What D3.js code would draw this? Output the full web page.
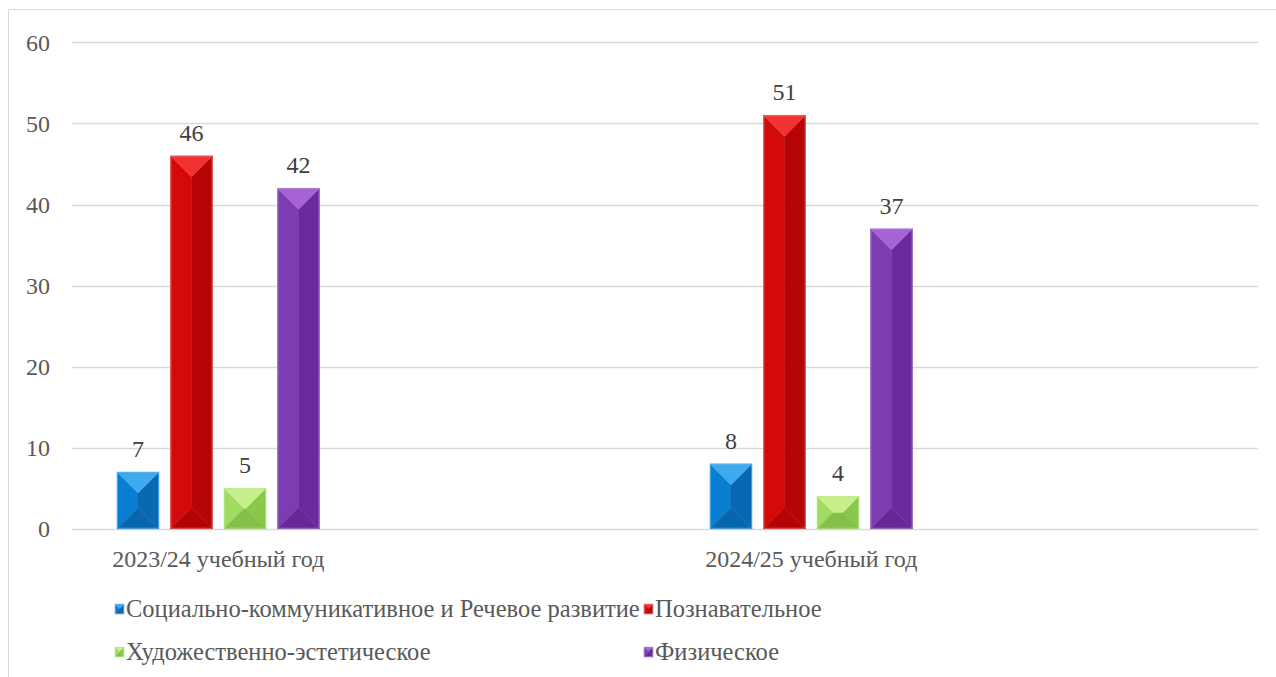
<!DOCTYPE html>
<html>
<head>
<meta charset="utf-8">
<script src="https://cdn.jsdelivr.net/npm/d3@7"></script>
<style>
  body { margin: 0; background: #fff; }
</style>
</head>
<body>
<svg id="chart" width="1276" height="677"></svg>
<script>
// data
var categories = ["2023/24 учебный год", "2024/25 учебный год"];
var series = ["Социально-коммуникативное и Речевое развитие", "Познавательное", "Художественно-эстетическое", "Физическое"];
var values = [
  [7, 46, 5, 42],
  [8, 51, 4, 37]
];
var yTicks = [0, 10, 20, 30, 40, 50, 60];

// shades per series: top, left, right, bottom
var shades = [
  {top: "#3fa9ef", left: "#0a7ed2", right: "#0868b2", bottom: "#0866ae", edge: "#5bb5f0"},
  {top: "#f23232", left: "#d40a0a", right: "#b70404", bottom: "#b20404", edge: "#e86a6a"},
  {top: "#c6ef8c", left: "#9fdc5f", right: "#8ac84c", bottom: "#84bf47", edge: "#b5e58a"},
  {top: "#a563d6", left: "#7c3cb2", right: "#6a2a9d", bottom: "#662896", edge: "#a680c8"}
];

// pick the first installed serif font
function pickFont(cands) {
  var ctx = document.createElement("canvas").getContext("2d");
  var probe = "mmmwwwlliАБВГДжфыуй0123456789";
  for (var i = 0; i < cands.length; i++) {
    var ok = ["monospace", "sans-serif"].every(function(fb) {
      ctx.font = "40px " + fb;
      var w0 = ctx.measureText(probe).width;
      ctx.font = "40px '" + cands[i] + "', " + fb;
      return ctx.measureText(probe).width !== w0;
    });
    if (ok) return "'" + cands[i] + "', serif";
  }
  return "serif";
}
var FONT = pickFont(["Liberation Serif", "Tinos", "Times New Roman", "Noto Serif", "DejaVu Serif", "FreeSerif"]);
var FS = 24;

var svg = d3.select("#chart")
  .style("font-family", FONT);

// outer frame (top + left only visible)
svg.append("path")
  .attr("d", "M8.5,677 L8.5,9.5 L1276,9.5")
  .attr("fill", "none").attr("stroke", "#d9d9d9").attr("stroke-width", 1);

var plotLeft = 72, plotRight = 1258;
var y = d3.scaleLinear().domain([0, 60]).range([528.7, 42.4]);
var x0 = d3.scaleBand().domain(categories).range([plotLeft, plotRight]);
var x1 = d3.scaleBand().domain(series).range([39.25, 39.25 + 4 * 53.5]).paddingInner(0.215).paddingOuter(0.1075);
var groupMid = (x1.range()[0] + x1.range()[1]) / 2;

// grid
svg.append("g").selectAll("line").data(yTicks).enter().append("line")
  .attr("x1", plotLeft).attr("x2", plotRight)
  .attr("y1", d => Math.round(y(d)) + 0.5).attr("y2", d => Math.round(y(d)) + 0.5)
  .attr("stroke", "#d9d9d9").attr("stroke-width", 1.3);

// y labels
svg.append("g").selectAll("text").data(yTicks).enter().append("text")
  .attr("x", 50).attr("y", d => y(d) + 8.5)
  .attr("text-anchor", "end").attr("font-size", FS).attr("fill", "#595959")
  .style("font-family", FONT)
  .text(d => d);

function bevelBar(g, x, yTop, w, h, c) {
  var d = Math.min(w / 2, h / 2);
  var xa = x, xb = x + w, ya = yTop, yb = yTop + h;
  var pts = {
    left: [[xa, ya], [xa + d, ya + d], [xa + d, yb - d], [xa, yb]],
    right: [[xb, ya], [xb - d, ya + d], [xb - d, yb - d], [xb, yb]],
    top: [[xa, ya], [xb, ya], [xb - d, ya + d], [xa + d, ya + d]],
    bottom: [[xa, yb], [xb, yb], [xb - d, yb - d], [xa + d, yb - d]]
  };
  if (w / 2 > d) {
    g.append("rect").attr("x", xa + d).attr("y", ya + d).attr("width", w - 2 * d).attr("height", Math.max(0, h - 2 * d))
      .attr("fill", c.left);
  }
  ["left", "right", "bottom", "top"].forEach(function(k) {
    g.append("polygon").attr("points", pts[k].map(p => p.join(",")).join(" "))
      .attr("fill", c[k]).attr("stroke", c[k]).attr("stroke-width", 0.4);
  });
  g.append("rect").attr("x", xa + 0.5).attr("y", ya + 0.5).attr("width", w - 1).attr("height", h - 1)
    .attr("fill", "none").attr("stroke", c.edge).attr("stroke-width", 1).attr("stroke-opacity", 0.7);
}

// bars
categories.forEach(function(cat, ci) {
  var g = svg.append("g").attr("transform", "translate(" + x0(cat) + ",0)");
  series.forEach(function(s, si) {
    var v = values[ci][si];
    var bx = x1(s), bw = x1.bandwidth();
    bevelBar(g, bx, y(v), bw, y(0) - y(v), shades[si]);
    g.append("text")
      .attr("x", bx + bw / 2).attr("y", y(v) - 15)
      .attr("text-anchor", "middle").attr("font-size", FS).attr("fill", "#404040")
      .style("font-family", FONT)
      .text(v);
  });
  // category label, centred under the group of bars
  svg.append("text")
    .attr("x", x0(cat) + groupMid).attr("y", 567)
    .attr("text-anchor", "middle").attr("font-size", FS).attr("fill", "#595959")
    .style("font-family", FONT)
    .text(cat);
});

// legend
var legendPos = [[115, 609], [644, 609], [115, 652], [644, 652]];
series.forEach(function(s, si) {
  var p = legendPos[si];
  var lg = svg.append("g");
  bevelBar(lg, p[0], p[1] - 5, 9, 10, shades[si]);
  lg.append("text").attr("x", p[0] + 11).attr("y", p[1] + 8)
    .attr("font-size", 24.5).attr("fill", "#595959")
    .style("font-family", FONT)
    .text(s);
});
</script>
</body>
</html>
